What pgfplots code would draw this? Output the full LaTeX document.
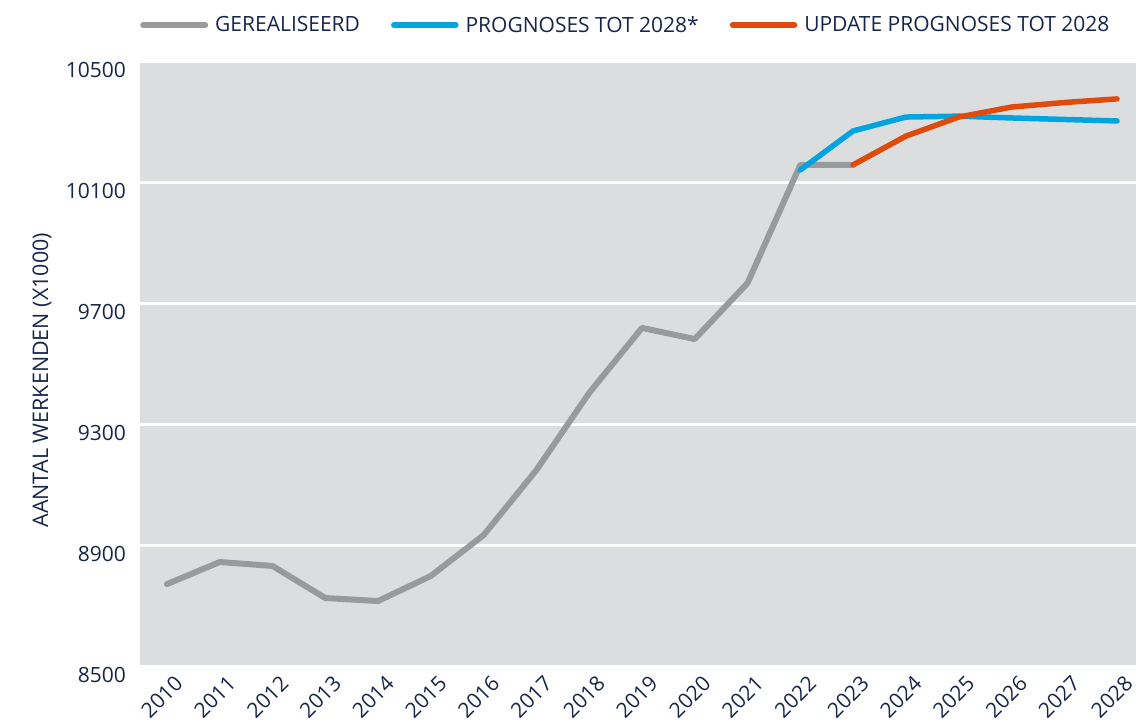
\documentclass[border=0pt]{standalone}
\usepackage{fontspec}
\setmainfont{Open Sans}
\usepackage{pgfplots}
\pgfplotsset{compat=1.18}
\definecolor{navy}{HTML}{17254A}
\definecolor{bg}{HTML}{DCDDDF}
\definecolor{grayline}{HTML}{999A9C}
\definecolor{blueline}{HTML}{00A5E0}
\definecolor{orangeline}{HTML}{E04A0A}
\begin{document}
\begin{tikzpicture}
\begin{axis}[
  scale only axis,
  width=996pt, height=605pt,
  xmin=2009.49, xmax=2028.36,
  ymin=8500, ymax=10500,
  axis background/.style={fill=bg},
  axis line style={draw=none},
  major tick length=0pt,
  xtick={2010,...,2028},
  ytick={8500,8900,...,10500},
  scaled ticks=false,
  ymajorgrids,
  major grid style={white, line width=3pt},
  /pgf/number format/assume math mode=true,
  xticklabel={\pgfmathprintnumber[1000 sep={}]{\tick}},
  yticklabel={\pgfmathprintnumber[1000 sep={}]{\tick}},
  tick label style={font=\fontsize{21}{25}\selectfont, text=navy},
  x tick label style={xshift=-5pt, yshift=-30pt, rotate=45, anchor=center, inner sep=0pt},
  y tick label style={anchor=east, xshift=-14pt, yshift=-8pt, inner sep=0pt},
  ylabel={AANTAL WERKENDEN (X1000)},
  ylabel style={font=\fontsize{21.5}{25}\selectfont, text=navy, at={(axis description cs:-0.0984,0.474)}, anchor=center, inner sep=0pt},
  legend columns=3,
  legend style={draw=none, fill=none, font=\fontsize{21}{25}\selectfont, text=navy,
    at={(axis description cs:0,1)}, anchor=south west, xshift=0pt, yshift=26pt,
    /tikz/every odd column/.append style={column sep=5pt},
    /tikz/every even column/.append style={column sep=29pt}, inner sep=0pt},
  legend image code/.code={\draw[#1] (0pt,0pt) -- (62pt,0pt);},
  every axis plot/.append style={line join=round, line cap=round},
]
\addplot[grayline, line width=6pt] coordinates {
(2010,8774) (2011,8847) (2012,8834) (2013,8728) (2014,8718) (2015,8801)
(2016,8936) (2017,9151) (2018,9406) (2019,9621) (2020,9584) (2021,9769)
(2022,10160) (2023,10160)};
\addlegendentry{GEREALISEERD}
\addplot[blueline, line width=5.5pt] coordinates {
(2022,10143) (2023,10272) (2024,10318) (2025,10321) (2026,10315) (2027,10310) (2028,10305)};
\addlegendentry{PROGNOSES TOT 2028*}
\addplot[orangeline, line width=5.5pt] coordinates {
(2023,10160) (2024,10255) (2025,10318) (2026,10351) (2027,10366) (2028,10378)};
\addlegendentry{UPDATE PROGNOSES TOT 2028}
\end{axis}
\pgfresetboundingbox
\path[use as bounding box] ([xshift=-140pt,yshift=-57pt]current axis.south west) rectangle ([yshift=62pt]current axis.north east);
\end{tikzpicture}
\end{document}
